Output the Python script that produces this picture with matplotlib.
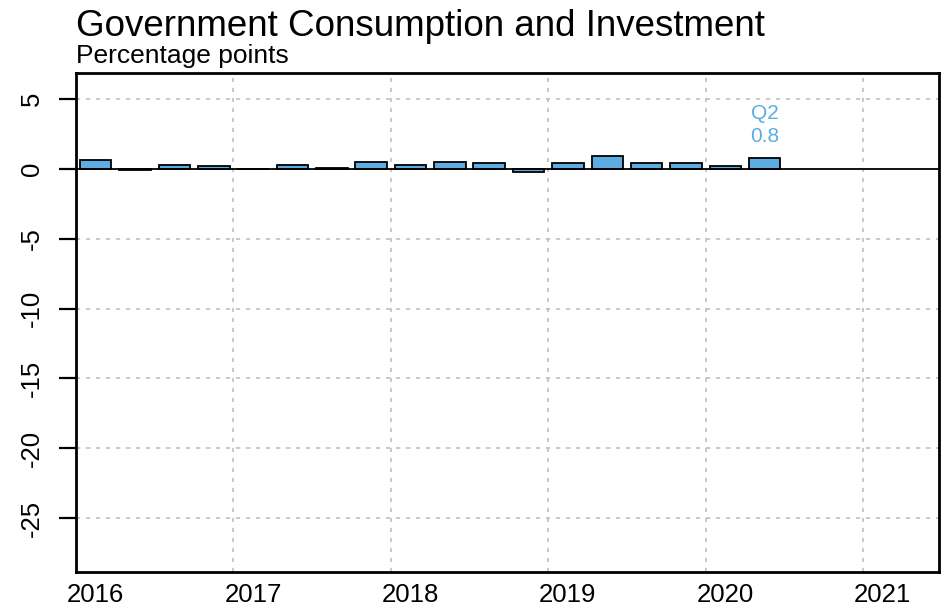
import matplotlib
matplotlib.use("Agg")
import matplotlib.pyplot as plt
import numpy as np

plt.rcParams['font.family'] = ['Liberation Sans', 'DejaVu Sans']

# quarterly contributions, 2016Q1 .. 2020Q2
years = [2016] * 4 + [2017] * 4 + [2018] * 4 + [2019] * 4 + [2020] * 2
quarters = [1, 2, 3, 4] * 4 + [1, 2]
values = [0.6, -0.1, 0.3, 0.2,
          0.0, 0.3, 0.05, 0.5,
          0.3, 0.5, 0.45, -0.2,
          0.45, 0.9, 0.4, 0.4,
          0.2, 0.8]
year_labels = [2016, 2017, 2018, 2019, 2020, 2021]
y_ticks = [5, 0, -5, -10, -15, -20, -25]

bar_color = "#5DADE2"
grid_style = dict(color="#C0C0C0", linestyle=(0, (2.5, 3.5)), linewidth=1.2, zorder=0)

x = np.array(years) + (np.array(quarters) - 0.5) / 4

fig = plt.figure(figsize=(9.47, 6.10), dpi=100)
ax = fig.add_axes([0.0803, 0.0623, 0.9108, 0.8180])

ax.bar(x, values, width=0.2, color=bar_color, edgecolor="black", linewidth=1.3, zorder=3)
ax.axhline(0, color="black", linewidth=1.3, zorder=4)

ax.set_xlim(2016.023, 2021.48)
ax.set_ylim(-28.86, 6.86)

# gridlines at year boundaries, labels centred on Q1
ax.set_xticks(year_labels, minor=True)
ax.set_xticks([yr + 0.125 for yr in year_labels])
ax.set_xticklabels([str(yr) for yr in year_labels], fontsize=18.5)
ax.tick_params(axis="x", which="both", length=0, pad=8)
ax.grid(True, axis="x", which="minor", **grid_style)

ax.set_yticks(y_ticks)
ax.set_yticklabels([str(v) for v in y_ticks], fontsize=18.5, rotation=90, va="center")
ax.tick_params(axis="y", length=12, width=1.6, pad=11)
for v in y_ticks:
    if v != 0:
        ax.axhline(v, **grid_style)

for s in ax.spines.values():
    s.set_linewidth(2)

# label on the latest quarter
ax.annotate("%.1f" % values[-1], xy=(x[-1], values[-1]), xytext=(0, 15), textcoords="offset points",
            ha="center", va="center", color=bar_color, fontsize=15)
ax.annotate("Q" + str(quarters[-1]), xy=(x[-1], values[-1]), xytext=(0, 32), textcoords="offset points",
            ha="center", va="center", color=bar_color, fontsize=15)

fig.text(0.0803, 0.941, "Government Consumption and Investment", fontsize=26.5, ha="left", va="baseline")
fig.text(0.0803, 0.897, "Percentage points", fontsize=19, ha="left", va="baseline")

fig.savefig("out.png", dpi=100)
